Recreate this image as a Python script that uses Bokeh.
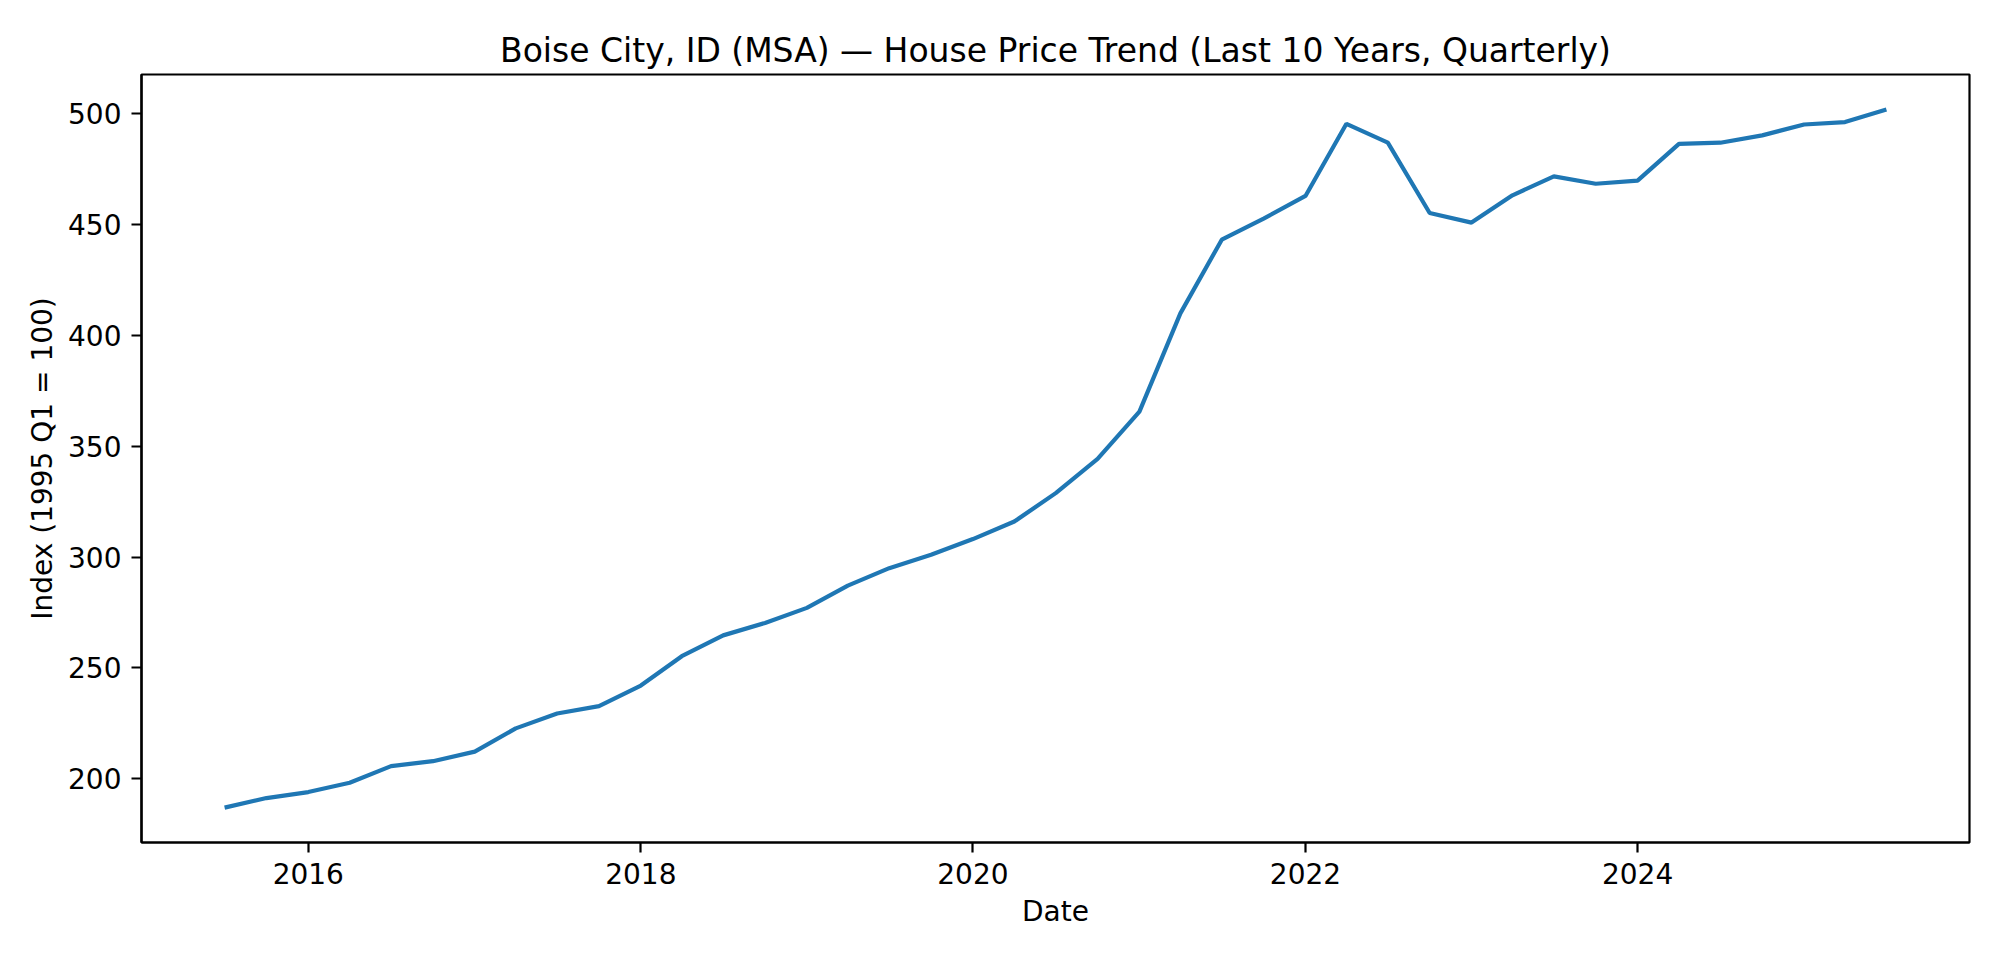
import pandas as pd
from datetime import datetime
from bokeh.plotting import figure
from bokeh.models import Range1d, FixedTicker, DatetimeTickFormatter, ColumnDataSource
from bokeh.embed import file_html
from bokeh.resources import INLINE

# Quarterly dates (2015 Q3 .. 2025 Q3)
dates = list(pd.date_range("2015-07-01", periods=41, freq="QS"))

# House price index values (1995 Q1 = 100)
index_values = [
    187.1, 191.4, 194.1, 198.3, 205.8, 208.0, 212.3, 222.8, 229.5, 232.8,
    242.1, 255.3, 264.7, 270.3, 277.1, 287.1, 295.0, 301.0, 308.1, 316.0,
    328.8, 344.2, 365.5, 409.8, 443.0, 452.5, 462.7, 495.2, 486.7, 455.0,
    450.7, 463.0, 471.5, 468.2, 469.6, 486.2, 486.7, 490.0, 494.9, 496.0,
    501.7,
]

y_ticks = [200, 250, 300, 350, 400, 450, 500]
x_tick_years = [2016, 2018, 2020, 2022, 2024]

title_text = "Boise City, ID (MSA) \u2014 House Price Trend (Last 10 Years, Quarterly)"
x_label = "Date"
y_label = "Index (1995 Q1 = 100)"

FONT = "DejaVu Sans"

# ranges with 5% margins like matplotlib
x0, x1 = dates[0], dates[-1]
span = x1 - x0
ymin, ymax = min(index_values), max(index_values)
yspan = ymax - ymin

p = figure(
    width=1984, height=944,
    x_axis_type="datetime",
    output_backend="svg",
    toolbar_location=None,
    x_range=Range1d(x0 - 0.05 * span, x1 + 0.05 * span),
    y_range=Range1d(ymin - 0.05 * yspan, ymax + 0.05 * yspan),
    min_border_left=141, min_border_right=15,
    min_border_top=74, min_border_bottom=102,
)

src = ColumnDataSource(dict(date=dates, value=index_values))
p.line("date", "value", source=src, line_color="#1f77b4", line_width=4.2)

# Title
p.title.text = title_text
p.title.align = "center"
p.title.text_font = FONT
p.title.text_font_size = "33px"
p.title.text_font_style = "normal"
p.title.text_color = "black"

# Grid off, frame outline
p.xgrid.visible = False
p.ygrid.visible = False
p.outline_line_color = "black"
p.outline_line_width = 2.2
p.outline_line_alpha = 1.0

# Axes
tick_ms = [datetime(yr, 1, 1).timestamp() * 1000 for yr in x_tick_years]
p.xaxis.ticker = FixedTicker(ticks=tick_ms)
fmt = "%Y"
p.xaxis.formatter = DatetimeTickFormatter(
    years=fmt, months=fmt, days=fmt, hours=fmt, hourmin=fmt,
    minutes=fmt, minsec=fmt, seconds=fmt, milliseconds=fmt, microseconds=fmt,
)
p.yaxis.ticker = FixedTicker(ticks=y_ticks)

for ax in (p.xaxis, p.yaxis):
    ax.axis_line_color = "black"
    ax.axis_line_width = 2.2
    ax.major_tick_line_color = "black"
    ax.major_tick_line_width = 2.2
    ax.major_tick_out = 10
    ax.major_tick_in = 0
    ax.minor_tick_line_color = None
    ax.major_label_text_font = FONT
    ax.major_label_text_font_size = "28px"
    ax.major_label_text_color = "black"
    ax.major_label_standoff = 10
    ax.axis_label_text_font = FONT
    ax.axis_label_text_font_size = "28px"
    ax.axis_label_text_font_style = "normal"
    ax.axis_label_text_color = "black"

p.xaxis.axis_label = x_label
p.yaxis.axis_label = y_label
p.xaxis.axis_label_standoff = 8
p.yaxis.axis_label_standoff = 6

open("out.html", "w").write(file_html(p, INLINE))
